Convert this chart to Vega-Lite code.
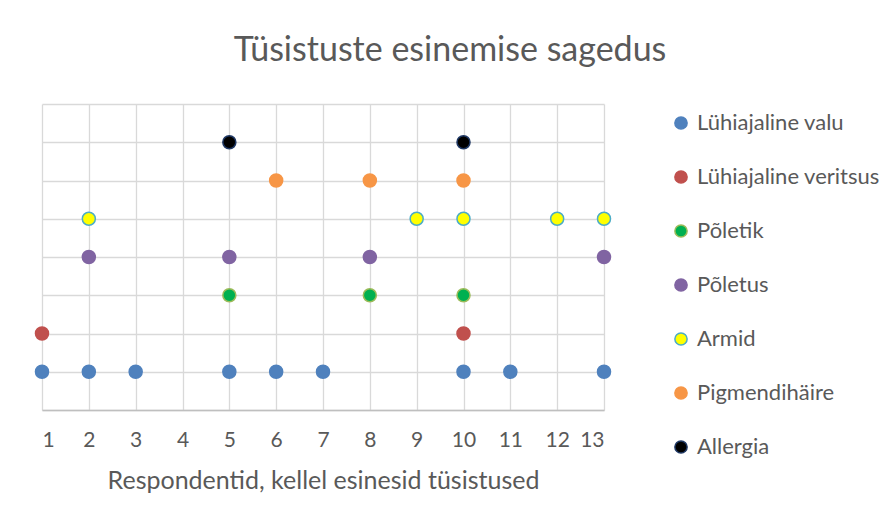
{
  "$schema": "https://vega.github.io/schema/vega-lite/v6.json",
  "autosize": {"type": "none"},
  "padding": {"left": 42, "top": 104, "right": 281, "bottom": 115},
  "width": 562,
  "height": 306,
  "background": "white",
  "title": {
    "text": "Tüsistuste esinemise sagedus",
    "font": "Lato",
    "fontSize": 34,
    "fontWeight": "normal",
    "color": "#595959",
    "anchor": "middle",
    "dx": 127,
    "offset": 36
  },
  "data": {
    "values": [
      {"respondent": 1, "level": 1, "series": "Lühiajaline valu"},
      {"respondent": 2, "level": 1, "series": "Lühiajaline valu"},
      {"respondent": 3, "level": 1, "series": "Lühiajaline valu"},
      {"respondent": 5, "level": 1, "series": "Lühiajaline valu"},
      {"respondent": 6, "level": 1, "series": "Lühiajaline valu"},
      {"respondent": 7, "level": 1, "series": "Lühiajaline valu"},
      {"respondent": 10, "level": 1, "series": "Lühiajaline valu"},
      {"respondent": 11, "level": 1, "series": "Lühiajaline valu"},
      {"respondent": 13, "level": 1, "series": "Lühiajaline valu"},
      {"respondent": 1, "level": 2, "series": "Lühiajaline veritsus"},
      {"respondent": 10, "level": 2, "series": "Lühiajaline veritsus"},
      {"respondent": 5, "level": 3, "series": "Põletik"},
      {"respondent": 8, "level": 3, "series": "Põletik"},
      {"respondent": 10, "level": 3, "series": "Põletik"},
      {"respondent": 2, "level": 4, "series": "Põletus"},
      {"respondent": 5, "level": 4, "series": "Põletus"},
      {"respondent": 8, "level": 4, "series": "Põletus"},
      {"respondent": 13, "level": 4, "series": "Põletus"},
      {"respondent": 2, "level": 5, "series": "Armid"},
      {"respondent": 9, "level": 5, "series": "Armid"},
      {"respondent": 10, "level": 5, "series": "Armid"},
      {"respondent": 12, "level": 5, "series": "Armid"},
      {"respondent": 13, "level": 5, "series": "Armid"},
      {"respondent": 6, "level": 6, "series": "Pigmendihäire"},
      {"respondent": 8, "level": 6, "series": "Pigmendihäire"},
      {"respondent": 10, "level": 6, "series": "Pigmendihäire"},
      {"respondent": 5, "level": 7, "series": "Allergia"},
      {"respondent": 10, "level": 7, "series": "Allergia"}
    ]
  },
  "mark": {"type": "point", "filled": true, "size": 170, "strokeWidth": 1.5, "opacity": 1, "shape": "circle"},
  "encoding": {
    "x": {
      "field": "respondent",
      "type": "quantitative",
      "scale": {"domain": [1, 13], "nice": false, "zero": false},
      "axis": {
        "values": [1, 2, 3, 4, 5, 6, 7, 8, 9, 10, 11, 12, 13],
        "title": "Respondentid, kellel esinesid tüsistused",
        "titleFont": "Lato",
        "titleFontSize": 25,
        "titleFontWeight": "normal",
        "titleColor": "#595959",
        "titlePadding": 18,
        "labelFont": "Lato",
        "labelFontSize": 21,
        "labelColor": "#595959",
        "labelPadding": 19,
        "ticks": false,
        "domainColor": "#bfbfbf",
        "domainWidth": 1.5,
        "grid": true,
        "gridColor": "#d9d9d9",
        "gridWidth": 1.3
      }
    },
    "y": {
      "field": "level",
      "type": "quantitative",
      "scale": {"domain": [0, 8], "nice": false},
      "axis": {
        "values": [0, 1, 2, 3, 4, 5, 6, 7, 8],
        "title": null,
        "labels": false,
        "ticks": false,
        "domain": false,
        "grid": true,
        "gridColor": "#d9d9d9",
        "gridWidth": 1.3
      }
    },
    "fill": {
      "field": "series",
      "type": "nominal",
      "sort": ["Lühiajaline valu", "Lühiajaline veritsus", "Põletik", "Põletus", "Armid", "Pigmendihäire", "Allergia"],
      "scale": {
        "domain": ["Lühiajaline valu", "Lühiajaline veritsus", "Põletik", "Põletus", "Armid", "Pigmendihäire", "Allergia"],
        "range": ["#4f81bd", "#c0504d", "#00b050", "#8064a2", "#ffff00", "#f79646", "#000000"]
      },
      "legend": {
        "title": null,
        "orient": "none",
        "legendX": 628,
        "legendY": 8,
        "labelFont": "Lato",
        "labelFontSize": 22,
        "labelColor": "#595959",
        "labelOffset": 5,
        "labelLimit": 300,
        "symbolSize": 150,
        "symbolStrokeWidth": 1.5,
        "rowPadding": 32
      }
    },
    "stroke": {
      "field": "series",
      "type": "nominal",
      "sort": ["Lühiajaline valu", "Lühiajaline veritsus", "Põletik", "Põletus", "Armid", "Pigmendihäire", "Allergia"],
      "scale": {
        "domain": ["Lühiajaline valu", "Lühiajaline veritsus", "Põletik", "Põletus", "Armid", "Pigmendihäire", "Allergia"],
        "range": ["#4f81bd", "#c0504d", "#9bbb59", "#8064a2", "#4bacc6", "#f79646", "#1f3864"]
      },
      "legend": {
        "title": null,
        "orient": "none",
        "legendX": 628,
        "legendY": 8,
        "labelFont": "Lato",
        "labelFontSize": 22,
        "labelColor": "#595959",
        "labelOffset": 5,
        "labelLimit": 300,
        "symbolSize": 150,
        "symbolStrokeWidth": 1.5,
        "rowPadding": 32
      }
    }
  },
  "config": {
    "view": {"stroke": null}
  }
}
